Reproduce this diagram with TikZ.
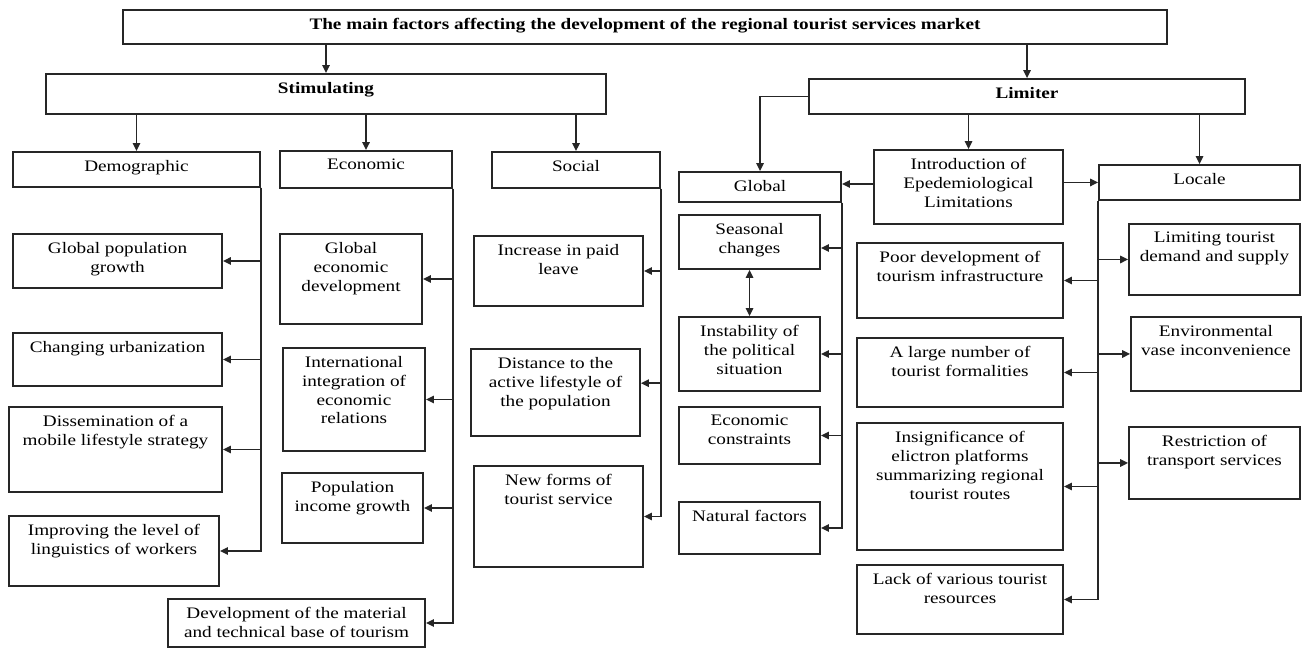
\documentclass[tikz,border=0pt]{standalone}
\usepackage{fontspec}
\setmainfont[FakeStretch=1.2]{Liberation Serif}
\usetikzlibrary{arrows.meta,fit,calc}
\newcommand\mybox[7][txt]{%
  \node[box, fit={(#3,#4) (#5,#6)}] (#2) {};
  \node[#1, anchor=north] (#2-t) at ([yshift=-6.5pt]#2.north) {#7};}
\begin{document}
\begin{tikzpicture}[x=0.75pt,y=-0.75pt,
  box/.style={draw=black!85, line width=1.3pt, inner sep=0pt},
  txt/.style={inner sep=0pt, align=center, font=\fontsize{12}{14.2}\selectfont},
  ttl/.style={inner sep=0pt, align=center, font=\fontsize{12}{14}\selectfont\bfseries},
  arr/.style={draw=black!85, line width=1.3pt, -{Triangle[length=6pt,width=5.5pt]}},
  dbl/.style={draw=black!85, line width=1.3pt, {Triangle[length=6pt,width=5.5pt]}-{Triangle[length=6pt,width=5.5pt]}}]
\useasboundingbox (0,0) rectangle (1304,648);
% boxes
\mybox[ttl]{title}{123}{10}{1167}{44}{The main factors affecting the development of the regional tourist services market}
\mybox[ttl]{stim}{46}{74}{606}{114}{Stimulating}
\mybox[ttl]{lim}{809}{79}{1245}{114}{Limiter}
\mybox{dem}{13}{152}{260}{187}{Demographic}
\mybox{eco}{280}{151}{452}{188}{Economic}
\mybox{soc}{492}{152}{660}{188}{Social}
\mybox{gpg}{13}{234}{222}{288}{Global population\\growth}
\mybox{urb}{13}{333}{222}{386}{Changing urbanization}
\mybox{dis}{9}{407}{222}{492}{Dissemination of a\\mobile lifestyle strategy}
\mybox{imp}{9}{516}{219}{586}{Improving the level of\\linguistics of workers}
\mybox{ged}{280}{234}{422}{324}{Global\\economic\\development}
\mybox{iie}{283}{348}{425}{451}{International\\integration of\\economic\\relations}
\mybox{pig}{282}{473}{423}{543}{Population\\income growth}
\mybox{dev}{168}{599}{425}{647}{Development of the material\\and technical base of tourism}
\mybox{ipl}{474}{236}{643}{306}{Increase in paid\\leave}
\mybox{dal}{471}{349}{640}{436}{Distance to the\\active lifestyle of\\the population}
\mybox{nft}{474}{466}{643}{567}{New forms of\\tourist service}
\mybox{glo}{679}{172}{841}{202}{Global}
\mybox{epi}{874}{150}{1063}{224}{Introduction of\\Epedemiological\\Limitations}
\mybox{loc}{1099}{165}{1300}{200}{Locale}
\mybox{sea}{679}{215}{820}{269}{Seasonal\\changes}
\mybox{ins}{679}{317}{820}{391}{Instability of\\the political\\situation}
\mybox{ecc}{679}{407}{820}{464}{Economic\\constraints}
\mybox{nat}{679}{502}{820}{554}{Natural factors}
\mybox{poor}{857}{243}{1063}{318}{Poor development of\\tourism infrastructure}
\mybox{lrg}{857}{338}{1063}{407}{A large number of\\tourist formalities}
\mybox{insg}{857}{423}{1063}{550}{Insignificance of\\elictron platforms\\summarizing regional\\tourist routes}
\mybox{lack}{857}{565}{1063}{634}{Lack of various tourist\\resources}
\mybox{ltd}{1129}{224}{1300}{295}{Limiting tourist\\demand and supply}
\mybox{env}{1131}{317}{1301}{391}{Environmental\\vase inconvenience}
\mybox{rts}{1129}{427}{1300}{499}{Restriction of\\transport services}
% connectors
\draw[arr] (title.south -| stim.north) -- (stim.north);
\draw[arr] (title.south -| lim.north) -- (lim.north);
\foreach \n in {dem,eco,soc} \draw[arr] (stim.south -| \n.north) -- (\n.north);
\draw[arr] (lim.west) -| (glo.north);
\draw[arr] (lim.south -| epi.north) -- (epi.north);
\draw[arr] (lim.south -| loc.north) -- (loc.north);
\draw[arr] ([yshift=2.25pt]epi.west) -- ([yshift=2.25pt]epi.west -| glo.east);
\draw[arr] (epi.east |- loc.west) -- (loc.west);
\foreach \n in {gpg,urb,dis,imp} \draw[arr] (dem.south east) |- (\n.east);
\foreach \n in {ged,iie,pig,dev} \draw[arr] (eco.south east) |- (\n.east);
\foreach \n in {ipl,nft} \draw[arr] (soc.south east) |- (\n.east);
\draw[arr] (soc.south east) |- ([yshift=7pt]dal.east);
\draw[arr] (glo.south east) |- ([yshift=-4.5pt]sea.east);
\foreach \n in {ins,ecc,nat} \draw[arr] (glo.south east) |- (\n.east);
\foreach \n in {poor,lrg,insg,lack} \draw[arr] (loc.south west) |- (\n.east);
\foreach \n in {ltd,env,rts} \draw[arr] (loc.south west) |- (\n.west);
\draw[dbl] (sea.south) -- (ins.north);
\end{tikzpicture}
\end{document}
